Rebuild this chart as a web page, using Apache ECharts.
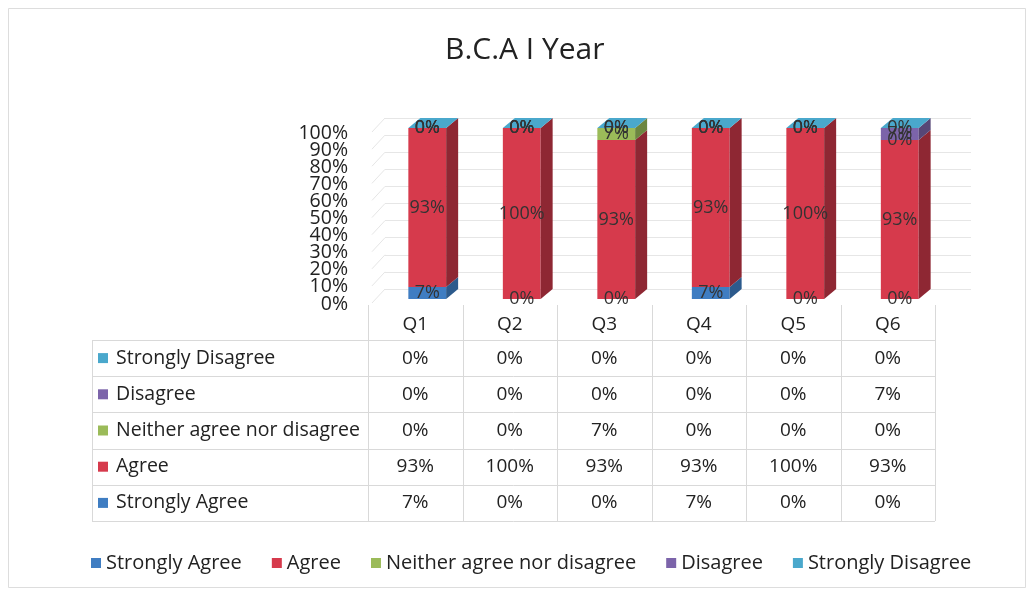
<!DOCTYPE html>
<html lang="en">
<head>
    <meta charset="UTF-8">
    <title>B.C.A I Year</title>
    <script src="https://cdn.jsdelivr.net/npm/echarts@6/dist/echarts.min.js"></script>
    <style>
        html, body { margin: 0; padding: 0; background: #fff; }
        #main { width: 1031px; height: 592px; }
    </style>
</head>
<body>
    <div id="main"></div>
    <script>
        // data (percent)
        var questions = ['Q1', 'Q2', 'Q3', 'Q4', 'Q5', 'Q6'];
        var seriesNames = ['Strongly Agree', 'Agree', 'Neither agree nor disagree', 'Disagree', 'Strongly Disagree'];
        var stronglyAgree = [7, 0, 0, 7, 0, 0];
        var agree = [93, 100, 93, 93, 100, 93];
        var neither = [0, 0, 7, 0, 0, 0];
        var disagree = [0, 0, 0, 0, 0, 7];
        var stronglyDisagree = [0, 0, 0, 0, 0, 0];
        var yTicks = [0, 10, 20, 30, 40, 50, 60, 70, 80, 90, 100];

        var rows = [stronglyAgree, agree, neither, disagree, stronglyDisagree];
        var colors = ['#3f7dc2', '#d63a4c', '#9bbb59', '#7c64aa', '#4aa8cc'];
        var sideColors = ['#2c5a8c', '#8e2733', '#6c8640', '#574676', '#357a94'];

        var FONT = '"Open Sans", "Liberation Sans", sans-serif';
        var GL = 368, GR = 935, GTOP = 128, GBOT = 299;
        var DX = 12, DY = -10;

        var myChart = echarts.init(document.getElementById('main'));

        // bar geometry shared by faces and labels
        function barBox(api, i, k) {
            var base = 0;
            for (var j = 0; j < k; j++) base += rows[j][i];
            var v = rows[k][i];
            var p0 = api.coord([i, base]);
            var p1 = api.coord([i, base + v]);
            var bw = api.size([1, 0])[0] * 0.4;
            var cx = p0[0] + 12;
            return { v: v, y0: p0[1], y1: p1[1], cx: cx, x0: cx - bw / 2, bw: bw };
        }

        function makeRender(k) {
            return function (params, api) {
                var b = barBox(api, params.dataIndex, k);
                var children = [];
                if (b.v > 0) {
                    children.push({
                        type: 'rect',
                        shape: { x: b.x0, y: b.y1, width: b.bw, height: b.y0 - b.y1 },
                        style: { fill: colors[k] }
                    });
                    children.push({
                        type: 'polygon',
                        shape: { points: [[b.x0 + b.bw, b.y0], [b.x0 + b.bw + DX, b.y0 + DY], [b.x0 + b.bw + DX, b.y1 + DY], [b.x0 + b.bw, b.y1]] },
                        style: { fill: sideColors[k] }
                    });
                }
                if (k === rows.length - 1) {
                    children.push({
                        type: 'polygon',
                        shape: { points: [[b.x0, b.y1], [b.x0 + b.bw, b.y1], [b.x0 + b.bw + DX, b.y1 + DY], [b.x0 + DX, b.y1 + DY]] },
                        style: { fill: colors[k] }
                    });
                }
                return { type: 'group', children: children };
            };
        }

        var series = [];
        for (var k = 0; k < rows.length; k++) {
            series.push({
                name: seriesNames[k],
                type: 'custom',
                z: 10 + k,
                itemStyle: { color: colors[k] },
                renderItem: makeRender(k),
                data: questions.map(function (q, i) { return [i, rows[k][i]]; })
            });
        }
        // data labels on top of all segments
        series.push({
            type: 'custom',
            z: 30,
            silent: true,
            renderItem: function (params, api) {
                var children = [];
                for (var k = 0; k < rows.length; k++) {
                    var b = barBox(api, params.dataIndex, k);
                    children.push({
                        type: 'text',
                        style: {
                            x: b.cx, y: (b.y0 + b.y1) / 2,
                            text: b.v + '%',
                            align: 'center', verticalAlign: 'middle',
                            fill: '#333', font: '18px ' + FONT
                        }
                    });
                }
                return { type: 'group', children: children };
            },
            data: questions.map(function (q, i) { return [i, 0]; })
        });

        // data table under the plot
        var graphics = [];
        var rowH = (521 - 340) / 5;
        var colW = (GR - GL) / questions.length;
        var lineStyle = { stroke: '#d9d9d9', lineWidth: 1 };
        for (var r = 0; r <= 5; r++) {
            var yy = Math.round(340 + r * rowH) + 0.5;
            graphics.push({ type: 'line', shape: { x1: 92, y1: yy, x2: GR, y2: yy }, style: lineStyle, silent: true });
        }
        graphics.push({ type: 'line', shape: { x1: 92.5, y1: 340, x2: 92.5, y2: 521 }, style: lineStyle });
        for (var c = 0; c <= questions.length; c++) {
            var xx = Math.round(GL + c * colW) + 0.5;
            graphics.push({ type: 'line', shape: { x1: xx, y1: 305, x2: xx, y2: 521 }, style: lineStyle });
        }
        for (var r = 0; r < 5; r++) {
            var k = rows.length - 1 - r;
            var cy = 340 + r * rowH + rowH / 2;
            graphics.push({ type: 'rect', shape: { x: 98, y: cy - 5, width: 10, height: 10 }, style: { fill: colors[k] } });
            graphics.push({
                type: 'text',
                style: { x: 116, y: cy, text: seriesNames[k], verticalAlign: 'middle', fill: '#222', font: '19.5px ' + FONT }
            });
            for (var c = 0; c < questions.length; c++) {
                graphics.push({
                    type: 'text',
                    style: {
                        x: GL + c * colW + colW / 2, y: cy, text: rows[k][c] + '%',
                        align: 'center', verticalAlign: 'middle', fill: '#222', font: '19px ' + FONT
                    }
                });
            }
        }
        // frame
        graphics.push({ type: 'rect', shape: { x: 8.5, y: 8.5, width: 1017, height: 579 }, style: { fill: 'none', stroke: '#dddddd' } });
        // side wall diagonals
        for (var t = 0; t < yTicks.length; t++) {
            var yw = GBOT - (GBOT - GTOP) * yTicks[t] / 100;
            graphics.push({ type: 'line', shape: { x1: 372, y1: yw + 4, x2: 385, y2: yw + DY }, style: { stroke: '#e6e6e6', lineWidth: 1 } });
        }

        var option = {
            backgroundColor: '#fff',
            animation: false,
            textStyle: { fontFamily: FONT },
            title: {
                text: 'B.C.A I Year',
                left: 440,
                top: 30,
                textStyle: { fontFamily: FONT, fontSize: 30, fontWeight: 'normal', color: '#222' }
            },
            legend: {
                data: seriesNames,
                left: 86,
                top: 548,
                icon: 'rect',
                itemWidth: 10,
                itemHeight: 10,
                itemGap: 30,
                textStyle: { fontFamily: FONT, fontSize: 20, color: '#222' }
            },
            grid: [
                { left: GL, right: 1031 - GR, top: GTOP, bottom: 592 - GBOT },
                { left: 385, right: 60, top: GTOP + DY, bottom: 592 - GBOT - DY }
            ],
            xAxis: [{
                type: 'category',
                data: questions,
                gridIndex: 0,
                axisLine: { show: false },
                axisTick: { show: false },
                axisLabel: { margin: 16, color: '#222', fontSize: 19, fontFamily: FONT }
            }, {
                type: 'category',
                data: questions,
                gridIndex: 1,
                show: false
            }],
            yAxis: [{
                type: 'value',
                gridIndex: 0,
                min: 0,
                max: 100,
                interval: 10,
                axisLine: { show: false },
                axisTick: { show: false },
                splitLine: { show: false },
                axisLabel: { show: false }
            }, {
                type: 'value',
                gridIndex: 1,
                min: 0,
                max: 100,
                interval: 10,
                axisLine: { show: false },
                axisTick: { show: false },
                axisLabel: { show: false },
                splitLine: { lineStyle: { color: '#e6e6e6' } }
            }],
            graphic: graphics,
            series: series
        };
        myChart.setOption(option);

        // y tick labels, packed tightly like the original (placed from the axis scale)
        yTicks.forEach(function (v) {
            var py = myChart.convertToPixel({ yAxisIndex: 0 }, v);
            graphics.push({
                type: 'text',
                style: {
                    x: GL - 20, y: py + 5, text: v + '%',
                    align: 'right', verticalAlign: 'middle', fill: '#222', font: '19.5px ' + FONT
                }
            });
        });
        myChart.setOption({ graphic: graphics }, { replaceMerge: ['graphic'] });
    </script>
</body>
</html>
